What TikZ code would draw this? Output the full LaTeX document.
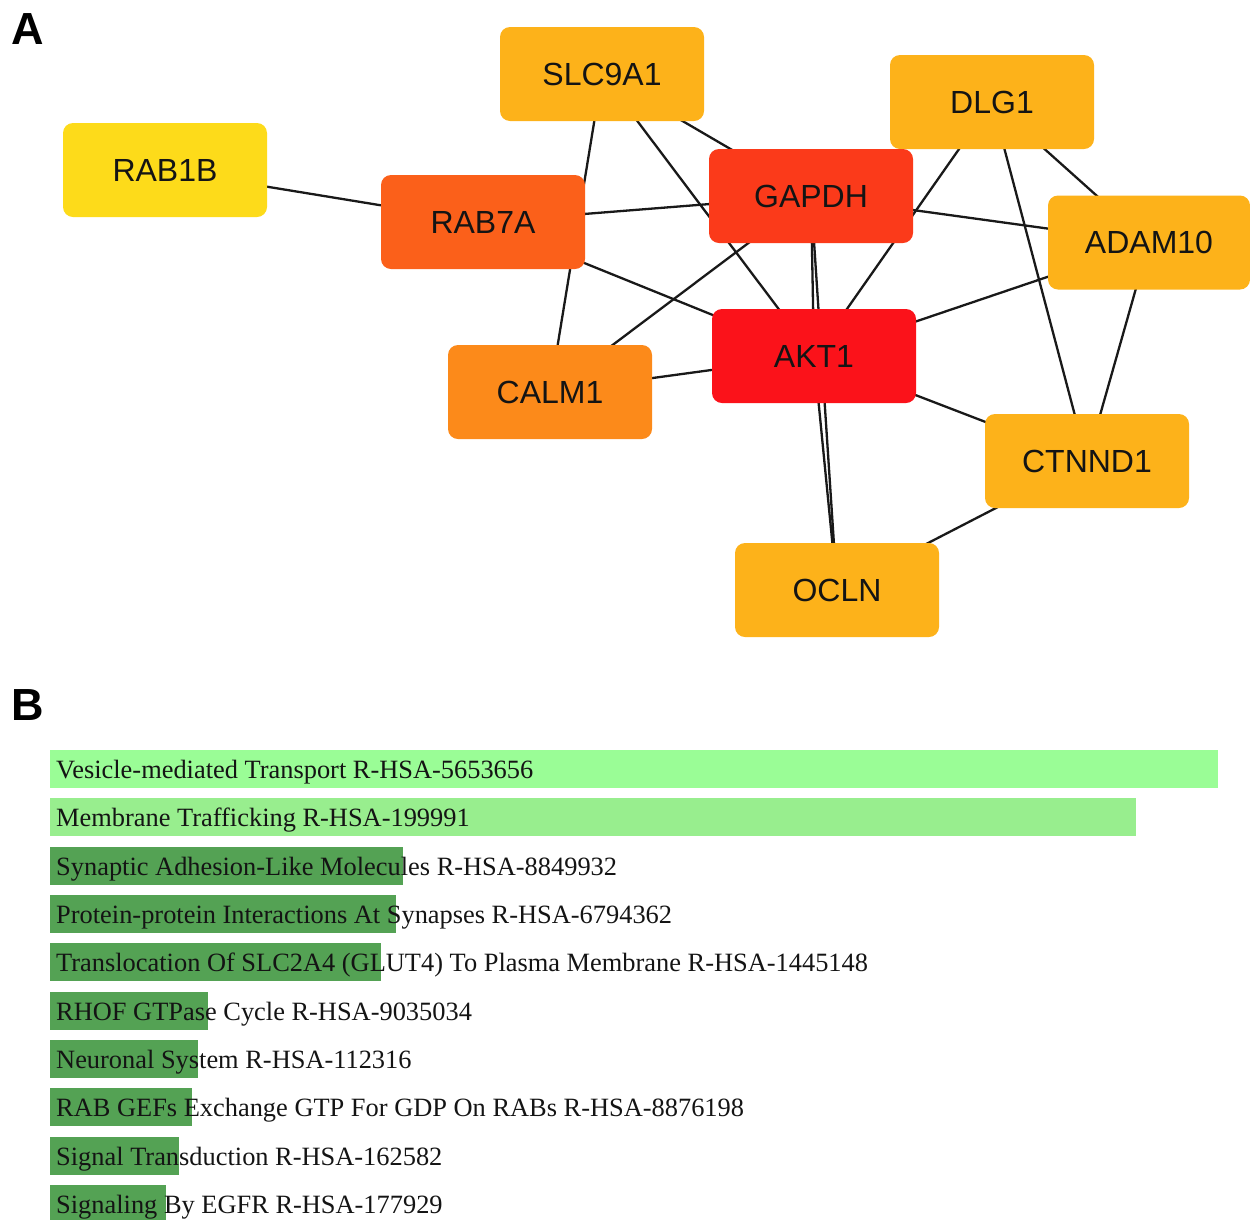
\documentclass[tikz,border=0pt]{standalone}
\usepackage{fontspec}
\setmainfont{Liberation Serif}
\newfontfamily\arialf{Liberation Sans}
\usetikzlibrary{backgrounds}
\definecolor{cYel}{RGB}{253,219,26}
\definecolor{cOra}{RGB}{253,178,26}
\definecolor{cCal}{RGB}{252,138,26}
\definecolor{cRab}{RGB}{251,96,26}
\definecolor{cGap}{RGB}{251,58,26}
\definecolor{cAkt}{RGB}{251,18,26}
\definecolor{gLightA}{RGB}{154,253,150}
\definecolor{gLightB}{RGB}{152,238,142}
\definecolor{gDark}{RGB}{84,162,84}
\definecolor{edgec}{RGB}{25,25,25}
\definecolor{txtc}{RGB}{20,20,20}
\tikzset{
  gene/.style={rectangle, rounded corners=10pt, minimum width=204pt, minimum height=94pt,
    inner sep=0pt, text=txtc, font=\arialf\fontsize{32}{36}\selectfont},
  link/.style={draw=edgec, line width=2.3pt},
  panel/.style={anchor=base west, inner sep=0pt, font=\arialf\bfseries\fontsize{45}{50}\selectfont},
  bartext/.style={anchor=base west, inner sep=0pt, text=txtc, font=\fontsize{26.4}{30}\selectfont}
}
\begin{document}
\begin{tikzpicture}[x=1pt, y=-1pt]
\useasboundingbox (0,0) rectangle (1250,1219);
\node[panel] (labA) at (11,44) {A};
\node[panel] (labB) at (11,720) {B};
% network nodes
\node[gene, fill=cYel] (rab1b) at (165,170) {RAB1B};
\node[gene, fill=cOra] (slc) at (602,74) {SLC9A1};
\node[gene, fill=cOra] (dlg) at (992,102) {DLG1};
\node[gene, fill=cGap] (gapdh) at (811,196) {GAPDH};
\node[gene, fill=cRab] (rab7a) at (483,222) {RAB7A};
\node[gene, fill=cOra, minimum width=202pt] (adam) at (1149,242.5) {ADAM10};
\node[gene, fill=cAkt] (akt) at (814,356) {AKT1};
\node[gene, fill=cCal] (calm) at (550,392) {CALM1};
\node[gene, fill=cOra] (ctnn) at (1087,461) {CTNND1};
\node[gene, fill=cOra] (ocln) at (837,590) {OCLN};
\begin{pgfonlayer}{background}
\draw[link] (rab1b.center) -- (rab7a.center);
\draw[link] (slc.center) -- (calm.center);
\draw[link] (slc.center) -- (akt.center);
\draw[link] (slc.center) -- (gapdh.center);
\draw[link] (rab7a.center) -- (gapdh.center);
\draw[link] (rab7a.center) -- (akt.center);
\draw[link] (calm.center) -- (gapdh.center);
\draw[link] (calm.center) -- (akt.center);
\draw[link] (gapdh.center) -- (akt.center);
\draw[link] (gapdh.center) -- (ocln.center);
\draw[link] (akt.center) -- (ocln.center);
\draw[link] (dlg.center) -- (akt.center);
\draw[link] (gapdh.center) -- (adam.center);
\draw[link] (dlg.center) -- (adam.center);
\draw[link] (dlg.center) -- (ctnn.center);
\draw[link] (adam.center) -- (ctnn.center);
\draw[link] (akt.center) -- (adam.center);
\draw[link] (akt.center) -- (ctnn.center);
\draw[link] (ctnn.center) -- (ocln.center);
\end{pgfonlayer}
% bar chart
\foreach \w/\c/\t [count=\i from 0] in {
  1218/gLightA/Vesicle-mediated Transport R-HSA-5653656,
  1136/gLightB/Membrane Trafficking R-HSA-199991,
  403/gDark/Synaptic Adhesion-Like Molecules R-HSA-8849932,
  396/gDark/Protein-protein Interactions At Synapses R-HSA-6794362,
  381/gDark/Translocation Of SLC2A4 (GLUT4) To Plasma Membrane R-HSA-1445148,
  208/gDark/RHOF GTPase Cycle R-HSA-9035034,
  198/gDark/Neuronal System R-HSA-112316,
  192/gDark/RAB GEFs Exchange GTP For GDP On RABs R-HSA-8876198,
  179/gDark/Signal Transduction R-HSA-162582,
  166/gDark/Signaling By EGFR R-HSA-177929}{
  \pgfmathsetmacro{\bartop}{750+48.33*\i}
  \fill[\c] (50,\bartop) rectangle (\w,\bartop+38);
  \node[bartext] (term\i) at (56,\bartop+28.5) {\t};
}
\end{tikzpicture}
\end{document}
